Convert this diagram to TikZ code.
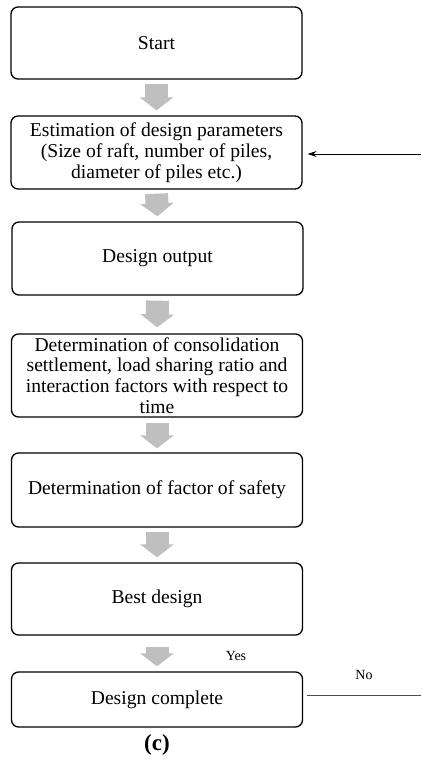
\documentclass[tikz,border=0pt]{standalone}
\usepackage{fontspec}
\setmainfont{Liberation Serif}
\usetikzlibrary{arrows.meta,calc}
\begin{document}
\begin{tikzpicture}[x=1pt,y=-1pt,
  box/.style={draw=black,line width=1.3pt,rounded corners=7pt,minimum width=291pt,
    align=center,font=\fontsize{19.6}{20.7}\selectfont,inner sep=0pt},
  flow/.style={draw=black!25,line width=23pt,-{Triangle[width=33pt,length=13pt,fill=black!25]}},
  thin/.style={draw=black,line width=0.9pt},
  lab/.style={font=\fontsize{14}{16}\selectfont}
]
\useasboundingbox (0,0) rectangle (422,762);
\node[box,minimum height=72pt] (b1) at (156.5,43) {Start};
\node[box,minimum height=73pt] (b2) at (156.5,152.5) {Estimation of design parameters\\(Size of raft, number of piles,\\diameter of piles etc.)};
\node[box,minimum height=73pt] (b3) at (157.5,258.5) {Design output};
\node[box,minimum height=83pt] (b4) at (157,375.5) {Determination of consolidation\\settlement, load sharing ratio and\\interaction factors with respect to\\time};
\node[box,minimum height=74pt] (b5) at (157,490) {Determination of factor of safety};
\node[box,minimum height=72pt] (b6) at (157,599) {Best design};
\node[box,minimum height=55pt] (b7) at (157,699.5) {Design complete};

\draw[flow] ($(b1.south)+(0,4)$) -- ($(b2.north)+(0,-5)$);
\draw[flow] ($(b2.south)+(0,4)$) -- ($(b3.north)+(0,-5)$);
\draw[flow] ($(b3.south)+(0,5)$) -- ($(b4.north)+(0,-6)$);
\draw[flow] ($(b4.south)+(0,5)$) -- ($(b5.north)+(0,-4)$);
\draw[flow] ($(b5.south)+(0,4)$) -- ($(b6.north)+(0,-5)$);
\draw[flow] ($(b6.south)+(0,11)$) -- ($(b7.north)+(0,-5)$);

\coordinate (inR) at (421,154);
\draw[thin,-{Stealth[length=9pt,width=6pt]}] (inR) -- ($(b2.east)+(5,1.5)$);
\coordinate (noR) at (421,695);
\draw[thin,draw=black!70] ($(b7.east)+(4,-4.5)$) -- (noR);

\node[lab] (yes) at (236,656) {Yes};
\node[lab] (no) at (364,675) {No};
\node[font=\fontsize{23}{26}\selectfont\bfseries] (cap) at (157,745) {(c)};
\end{tikzpicture}
\end{document}
